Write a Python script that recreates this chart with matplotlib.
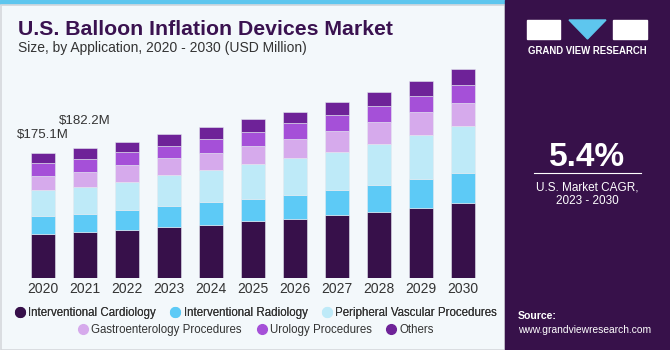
import numpy as np
import matplotlib.pyplot as plt
from matplotlib.patches import Rectangle, Polygon
from matplotlib.lines import Line2D
from matplotlib.colors import LinearSegmentedColormap

years = ["2020", "2021", "2022", "2023", "2024", "2025", "2026", "2027", "2028", "2029", "2030"]
cardiology = [62.5, 64.3, 67.6, 71.4, 74.6, 79.8, 83.0, 88.2, 93.2, 98.8, 105.0]
radiology = [24.4, 26.4, 28.4, 29.8, 31.8, 31.8, 33.6, 35.4, 37.8, 40.2, 42.0]
peripheral = [36.4, 36.5, 39.2, 43.4, 45.8, 48.0, 51.4, 53.6, 57.0, 62.0, 66.2]
gastro = [20.4, 21.8, 23.8, 23.4, 23.8, 25.6, 26.6, 28.4, 30.4, 31.2, 32.6]
urology = [17.4, 17.6, 17.4, 17.8, 18.6, 19.6, 22.8, 22.4, 22.8, 22.8, 24.8]
others = [14.0, 15.6, 14.8, 15.8, 17.2, 17.8, 15.8, 19.2, 19.2, 20.6, 22.0]
series_names = ["Interventional Cardiology", "Interventional Radiology",
                "Peripheral Vascular Procedures", "Gastroenterology Procedures",
                "Urology Procedures", "Others"]
colors = ["#37104A", "#5DCAF6", "#BEEAF8", "#D6AAEC", "#A550D8", "#6E2298"]
callouts = {0: "$175.1M", 1: "$182.2M"}

plt.rcParams["font.family"] = ["Liberation Sans", "DejaVu Sans"]

W, H = 670, 350
fig = plt.figure(figsize=(6.7, 3.5), dpi=100, facecolor="#F3F8FB")

# panel decorations
fig.patches.append(Rectangle((0, 1 - 4 / H), 505 / W, 4 / H, transform=fig.transFigure,
                             color="#5EC6EE", zorder=0))
fig.patches.append(Rectangle((0.5 / W, 0.5 / H), 504 / W, (H - 5) / H, transform=fig.transFigure,
                             fill=False, edgecolor="#D5D8DC", lw=1.2, zorder=0))
fig.patches.append(Rectangle((505 / W, 0), 165 / W, 1, transform=fig.transFigure,
                             color="#37114A", zorder=0))

# gradient at the bottom of the side panel
gax = fig.add_axes([505 / W, 0, 165 / W, 85 / H])
grad = np.linspace(0, 1, 100).reshape(-1, 1)
cmap = LinearSegmentedColormap.from_list("g", ["#4F8EC0", "#3F4E8A", "#37114A"])
gax.imshow(grad, aspect="auto", cmap=cmap, extent=[0, 1, 0, 1], origin="lower")
for k in np.linspace(0, 1, 14):
    gax.plot([k, 0.5 + (k - 0.5) * 0.6], [0, 0.8], color="white", alpha=0.12, lw=0.6)
for k in np.linspace(0.05, 0.75, 8):
    gax.plot([0, 1], [k, k], color="white", alpha=0.10, lw=0.6)
gax.set_xlim(0, 1)
gax.set_ylim(0, 1)
gax.axis("off")

# chart axes
base_px = 278.3
top_px = 60
ax = fig.add_axes([10 / W, (H - base_px) / H, 486 / W, (base_px - top_px) / H])
ax.set_facecolor("none")
x = np.arange(len(years))
stack = [cardiology, radiology, peripheral, gastro, urology, others]
bottom = np.zeros(len(years))
for vals, name, c in zip(stack, series_names, colors):
    ax.bar(x, vals, width=0.57, bottom=bottom, color=c, label=name,
           edgecolor="#E4E9F0", linewidth=0.4)
    bottom += np.array(vals)
ax.set_xlim(-0.786, 10.786)
ax.set_ylim(0, (base_px - top_px) * 1.4)
ax.set_xticks(x)
ax.set_xticklabels(years, fontsize=10, color="#333333")
ax.tick_params(axis="x", length=0, pad=3)
ax.set_yticks([])
for s in ax.spines.values():
    s.set_visible(False)

lifts = [8.5, 15]
for i, txt in callouts.items():
    ax.annotate(txt, (x[i], bottom[i]), xytext=(0, lifts[i]),
                textcoords="offset points", ha="center", va="bottom",
                fontsize=9.5, color="#333333")

# titles
fig.text(18 / W, 1 - 35 / H, "U.S. Balloon Inflation Devices Market", fontsize=15.3,
         fontweight="heavy", color="#3A1250", ha="left", va="baseline")
fig.text(18 / W, 1 - 52 / H, "Size, by Application, 2020 - 2030 (USD Million)", fontsize=10,
         color="#333333", ha="left", va="baseline")

# legend in two centred rows
handles = [Line2D([], [], marker="o", ls="", markersize=7, color=c) for c in colors]
leg_kw = dict(loc="center", ncol=3, frameon=False, fontsize=8.3, handletextpad=0.1,
              columnspacing=1.1, handlelength=1.2, labelcolor="#333333")
leg1 = fig.legend(handles[:3], series_names[:3], bbox_to_anchor=(255 / W, 1 - 313 / H), **leg_kw)
fig.legend(handles[3:], series_names[3:], bbox_to_anchor=(255 / W, 1 - 330 / H), **leg_kw)
fig.add_artist(leg1)

# side panel content
fig.patches.append(Rectangle((527 / W, 1 - 39 / H), 33 / W, 19 / H, transform=fig.transFigure,
                             color="white"))
fig.patches.append(Polygon([(569 / W, 1 - 20 / H), (606 / W, 1 - 20 / H), (587.5 / W, 1 - 39 / H)],
                           closed=True, transform=fig.transFigure, color="#5EC6EE"))
fig.patches.append(Rectangle((613 / W, 1 - 39 / H), 34 / W, 19 / H, transform=fig.transFigure,
                             color="white"))
fig.text(587 / W, 1 - 51 / H, "GRAND VIEW RESEARCH", fontsize=6.9, fontweight="bold",
         color="white", ha="center", va="center")
fig.text(587 / W, 1 - 157 / H, "5.4%", fontsize=24, fontweight="bold", color="white",
         ha="center", va="center")
fig.add_artist(Line2D([534 / W, 641 / W], [1 - 173 / H, 1 - 173 / H], color="white", lw=0.8))
fig.text(587 / W, 1 - 187 / H, "U.S. Market CAGR,", fontsize=8.5, color="white",
         ha="center", va="center")
fig.text(587 / W, 1 - 201 / H, "2023 - 2030", fontsize=8.5, color="white",
         ha="center", va="center")
fig.text(518 / W, 1 - 316 / H, "Source:", fontsize=7.6, fontweight="bold", color="white",
         ha="left", va="center")
fig.text(518 / W, 1 - 330 / H, "www.grandviewresearch.com", fontsize=7.4, color="white",
         ha="left", va="center")

fig.savefig("out.png", dpi=100, facecolor=fig.get_facecolor())
